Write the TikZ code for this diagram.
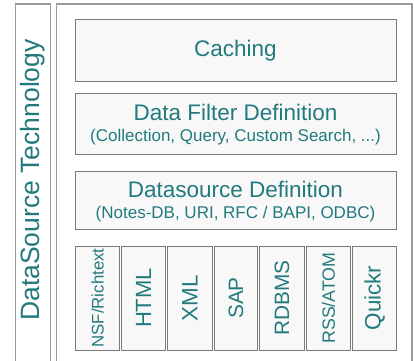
\documentclass[tikz,border=0pt]{standalone}
\usepackage{fontspec}
\setmainfont{Liberation Sans}
\definecolor{teal1}{HTML}{227A7C}
\definecolor{frame1}{HTML}{9A9A9A}
\definecolor{boxline}{HTML}{7A7A7A}
\definecolor{boxfill}{HTML}{F8F8F8}
\begin{document}
\begin{tikzpicture}[x=1pt,y=-1pt,
  layerbox/.style={draw=boxline,fill=boxfill,line width=1pt},
  outerline/.style={draw=frame1,line width=1.6pt},
  txt/.style={text=teal1,inner sep=0pt},
  head/.style={txt,anchor=base,font=\fontsize{22.5}{27}\selectfont},
  sub/.style={txt,anchor=base,font=\fontsize{17}{20}\selectfont},
  vlab/.style={txt,rotate=90,anchor=center}]
\useasboundingbox (0,0) rectangle (414,360);
% outer frames (open at bottom)
\draw[outerline] (15.5,362) -- (15.5,4) -- (50.5,4) -- (50.5,362);
\draw[outerline] (56.5,362) -- (56.5,4) -- (412,4) -- (412,362);
\node[vlab,font=\fontsize{26.5}{30}\selectfont] (tech) at (33,180) {DataSource Technology};
% layers
\draw[layerbox] (75,19) rectangle (396,81);
\node[head] (caching) at (235.5,56) {Caching};
\draw[layerbox] (75,93) rectangle (396,154);
\node[head] (filter) at (235.5,120) {Data Filter Definition};
\node[sub] (filtersub) at (235.5,141.5) {(Collection, Query, Custom Search, ...)};
\draw[layerbox] (75,171) rectangle (396,229);
\node[head] (dsdef) at (235.5,197) {Datasource Definition};
\node[sub] (dssub) at (235.5,218) {(Notes-DB, URI, RFC / BAPI, ODBC)};
% source boxes
\foreach \i/\a/\b/\t/\s in {1/75/119/NSF\slash Richtext/16.8,2/121/165/HTML/22,3/167/212/XML/22.4,4/214/257/SAP/20.8,5/259/304/RDBMS/20.8,6/306/350/RSS\slash ATOM/17.8,7/352/396/Quickr/22.4}{
  \draw[layerbox] (\a,246) rectangle (\b,350);
  \node[vlab,font=\fontsize{\s}{\s}\selectfont] (src\i) at ({(\a+\b)/2+0.5},298) {\t};
}
\end{tikzpicture}
\end{document}
